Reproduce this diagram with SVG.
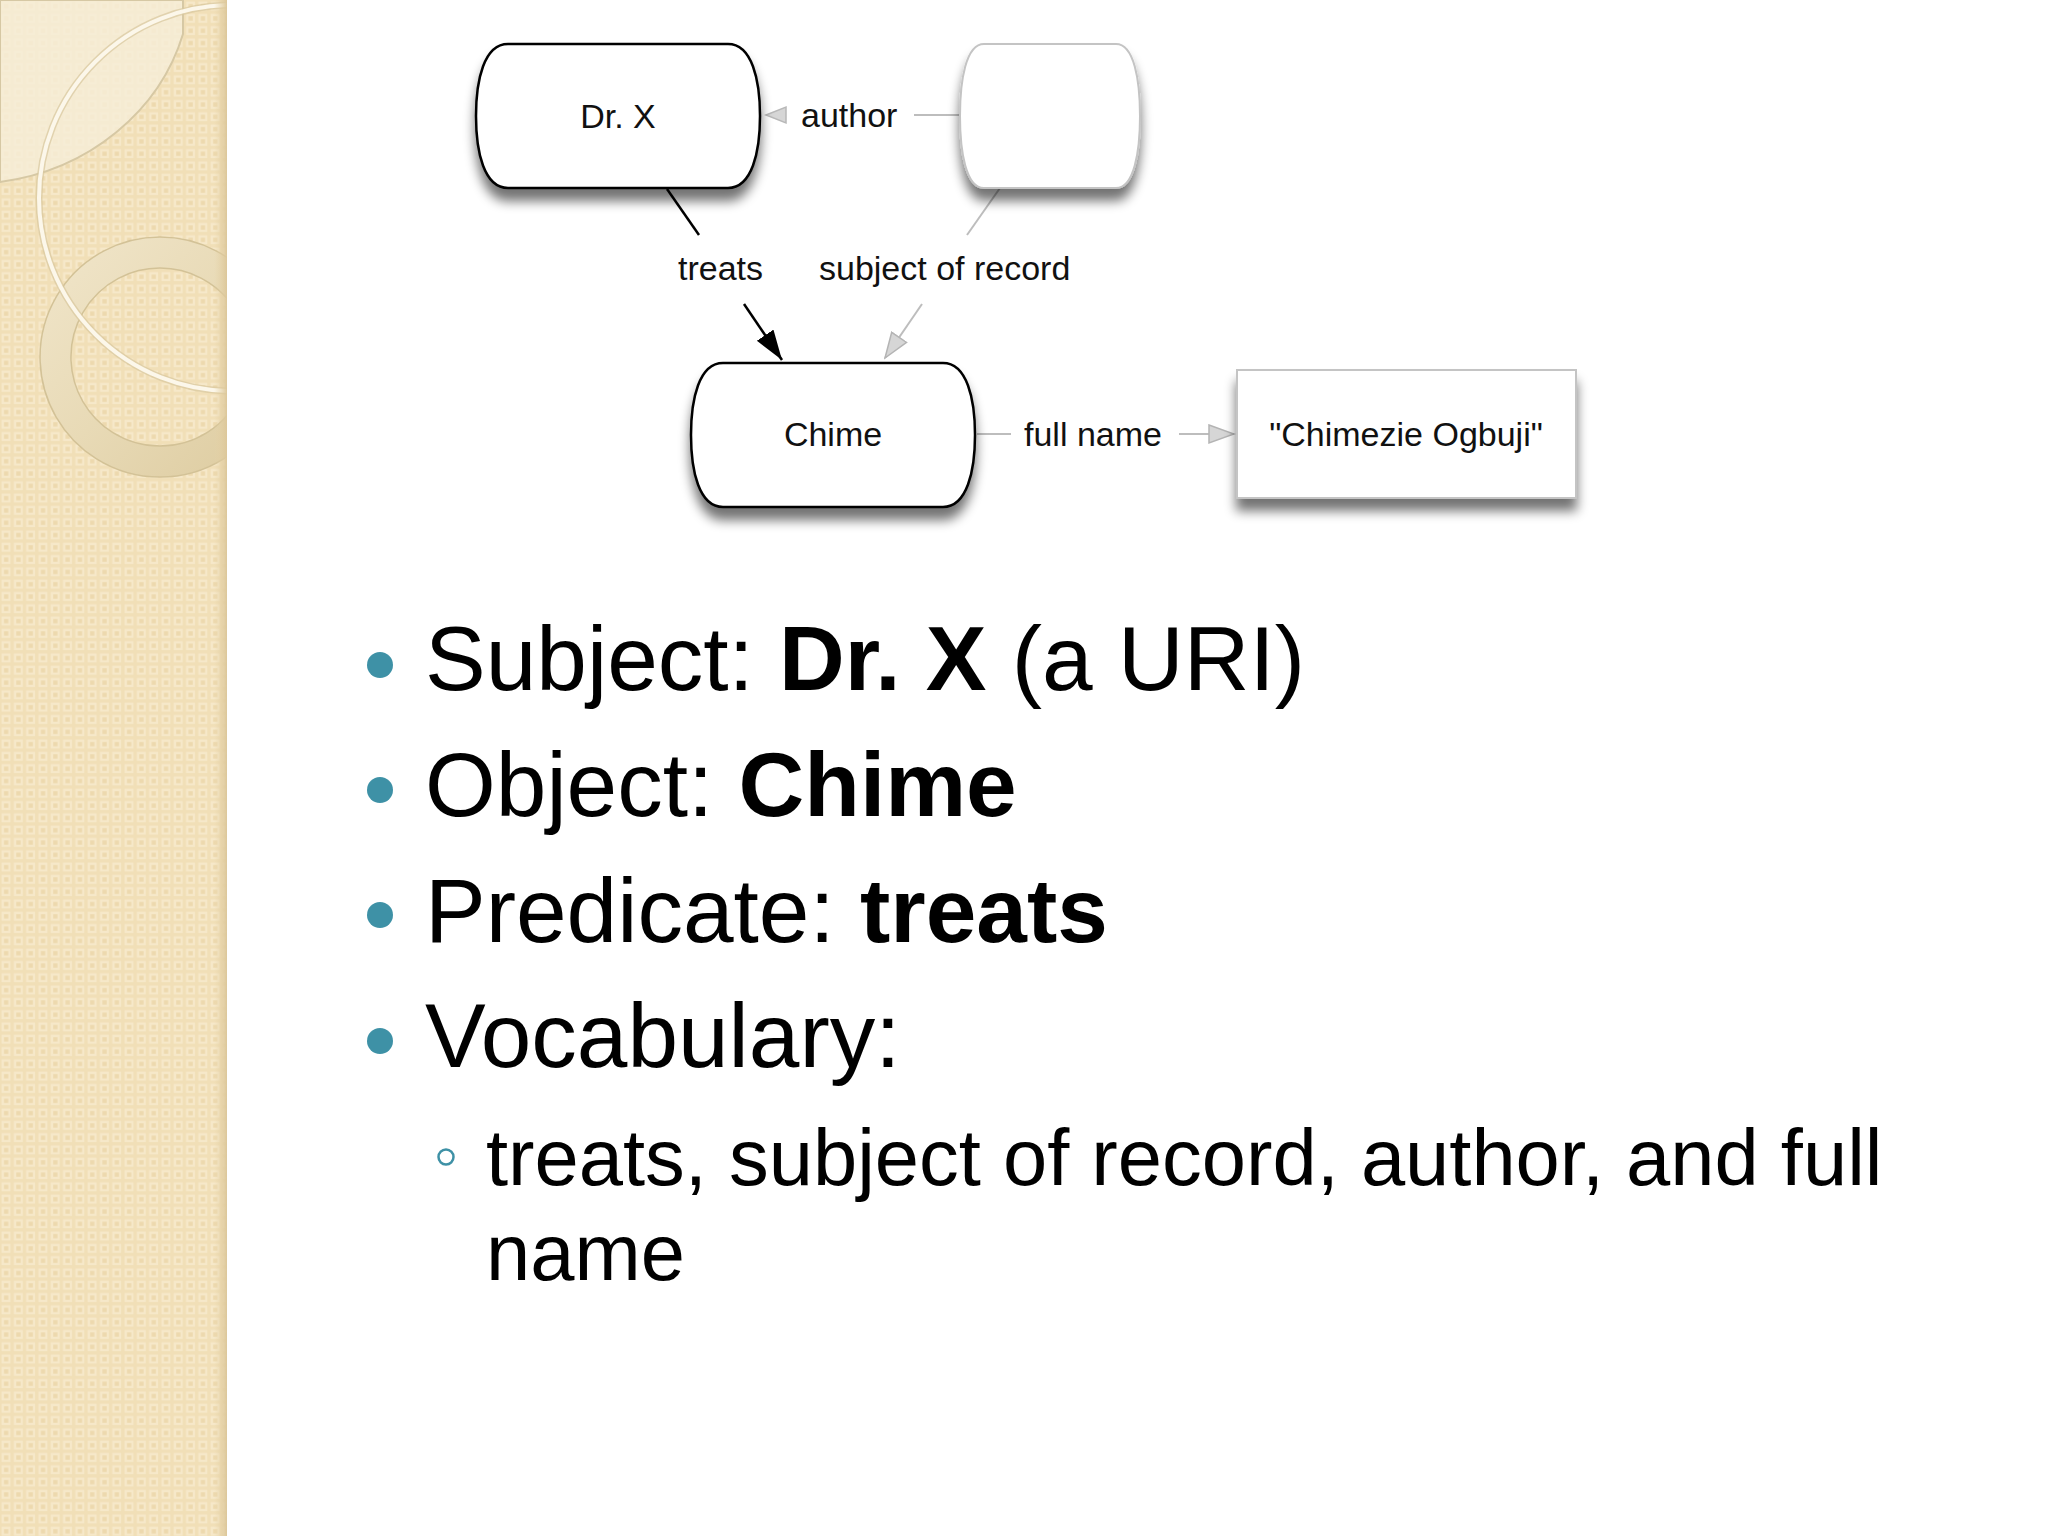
<svg xmlns="http://www.w3.org/2000/svg" width="2048" height="1536" viewBox="0 0 2048 1536">
<defs>
<style>
.lbl{font-family:"Liberation Sans",Arial,sans-serif;font-size:34px;fill:#111}
.big{font-family:"Liberation Sans",Arial,sans-serif;font-size:91px;fill:#000}
.sub{font-family:"Liberation Sans",Arial,sans-serif;font-size:79.5px;fill:#000}
.b{font-weight:bold}
.node{fill:#fff;stroke:#000;stroke-width:2.5}
.ghost{fill:#fff;stroke:#c4c4c4;stroke-width:2}
.dot{fill:#3E91A6}
</style>
<pattern id="chk" width="12.3" height="12.3" patternUnits="userSpaceOnUse">
<rect width="12.3" height="12.3" fill="#F1DFB7"/>
<rect x="1.5" y="1.5" width="9" height="9" fill="#F6E8C9"/>
<rect x="4" y="4" width="4.3" height="4.3" fill="#EDD9AE"/>
</pattern>
<linearGradient id="edge" x1="0" y1="0" x2="1" y2="0">
<stop offset="0" stop-color="#E6D3A8" stop-opacity="0"/>
<stop offset="1" stop-color="#DCC79A" stop-opacity="1"/>
</linearGradient>
<linearGradient id="ringg" x1="0" y1="0" x2="1" y2="1">
<stop offset="0" stop-color="#F1E6CB"/>
<stop offset="0.5" stop-color="#E8DAB6"/>
<stop offset="1" stop-color="#DCCA9E"/>
</linearGradient>
<clipPath id="side"><rect x="0" y="0" width="227" height="1536"/></clipPath>
<filter id="shadow" x="-20%" y="-20%" width="140%" height="160%">
<feGaussianBlur in="SourceAlpha" stdDeviation="6"/>
<feOffset dx="0" dy="12" result="o"/>
<feComponentTransfer><feFuncA type="linear" slope="0.55"/></feComponentTransfer>
<feMerge><feMergeNode/><feMergeNode in="SourceGraphic"/></feMerge>
</filter>
<marker id="arrBlack" markerUnits="userSpaceOnUse" markerWidth="32" markerHeight="22" refX="30" refY="10" orient="auto">
<path d="M0,0 L30,10 L0,20 Z" fill="#000"/>
</marker>
<marker id="arrGrey" markerUnits="userSpaceOnUse" markerWidth="28" markerHeight="22" refX="26" refY="10" orient="auto">
<path d="M1,1 L26,10 L1,19 Z" fill="#d6d6d6" stroke="#b4b4b4" stroke-width="1.5"/>
</marker>
</defs>

<rect width="2048" height="1536" fill="#fff"/>

<g id="sidebar" clip-path="url(#side)">
<rect x="0" y="0" width="227" height="1536" fill="url(#chk)"/>
<path d="M0,0 H183 V34 C160,110 90,170 0,182 Z" fill="#F6EDD8" fill-opacity="0.8" stroke="#D6C8A4" stroke-width="2"/>
<path d="M160,237 A120,120 0 1 0 160.1,237 Z M160,268 A89,89 0 1 1 159.9,268 Z" fill="url(#ringg)" fill-rule="evenodd" stroke="#D3C297" stroke-width="1.5"/>
<circle cx="232" cy="198" r="193" fill="none" stroke="#D8C79E" stroke-width="7" opacity="0.7"/>
<circle cx="232" cy="198" r="193" fill="none" stroke="#FCF7EA" stroke-width="4"/>
<rect x="214" y="0" width="13" height="1536" fill="url(#edge)"/>
</g>

<g id="connectors">
<g id="edge-author">
<line x1="914" y1="115" x2="960" y2="115" stroke="#bdbdbd" stroke-width="2"/>
<path d="M766,115 L786,107 L786,123 Z" fill="#d6d6d6" stroke="#b8b8b8" stroke-width="1.5"/>
<text class="lbl" x="801" y="127">author</text>
</g>
<g id="edge-treats">
<line x1="667" y1="189" x2="699" y2="235" stroke="#000" stroke-width="2.5"/>
<line x1="744" y1="304" x2="782" y2="360" stroke="#000" stroke-width="2.5" marker-end="url(#arrBlack)"/>
<text class="lbl" x="678" y="280">treats</text>
</g>
<g id="edge-subject">
<line x1="1000" y1="188" x2="967" y2="235" stroke="#bdbdbd" stroke-width="2"/>
<line x1="922" y1="304" x2="885" y2="358" stroke="#bdbdbd" stroke-width="2" marker-end="url(#arrGrey)"/>
<text class="lbl" x="819" y="280">subject of record</text>
</g>
<g id="edge-fullname">
<line x1="977" y1="434" x2="1011" y2="434" stroke="#bdbdbd" stroke-width="2"/>
<line x1="1179" y1="434" x2="1234" y2="434" stroke="#bdbdbd" stroke-width="2" marker-end="url(#arrGrey)"/>
<text class="lbl" x="1024" y="446">full name</text>
</g>
</g>

<g id="node-drx">
<path class="node" filter="url(#shadow)" d="M508,44 H728 C752,44 760,80 760,116 C760,152 752,188 728,188 H508 C484,188 476,152 476,116 C476,80 484,44 508,44 Z"/>
<text class="lbl" x="618" y="128" text-anchor="middle">Dr. X</text>
</g>

<g id="node-blank">
<path class="ghost" filter="url(#shadow)" d="M984,44 H1116 C1134,44 1140,80 1140,116 C1140,152 1134,188 1116,188 H984 C966,188 960,152 960,116 C960,80 966,44 984,44 Z"/>
</g>

<g id="node-chime">
<path class="node" filter="url(#shadow)" d="M723,363 H943 C967,363 975,399 975,435 C975,471 967,507 943,507 H723 C699,507 691,471 691,435 C691,399 699,363 723,363 Z"/>
<text class="lbl" x="833" y="446" text-anchor="middle">Chime</text>
</g>

<g id="node-literal">
<rect class="ghost" filter="url(#shadow)" x="1237" y="370" width="339" height="128"/>
<text class="lbl" x="1406" y="446" text-anchor="middle">"Chimezie Ogbuji"</text>
</g>

<g id="bullets">
<circle class="dot" cx="380" cy="665" r="13"/>
<text class="big" x="425" y="690">Subject: <tspan class="b">Dr. X</tspan> (a URI)</text>
<circle class="dot" cx="380" cy="790" r="13"/>
<text class="big" x="425" y="816">Object: <tspan class="b">Chime</tspan></text>
<circle class="dot" cx="380" cy="915" r="13"/>
<text class="big" x="425" y="942">Predicate: <tspan class="b">treats</tspan></text>
<circle class="dot" cx="380" cy="1041" r="13"/>
<text class="big" x="425" y="1067">Vocabulary:</text>
<circle cx="446" cy="1157" r="7.5" fill="none" stroke="#3E91A6" stroke-width="2.5"/>
<text class="sub" x="486" y="1185">treats, subject of record, author, and full</text>
<text class="sub" x="486" y="1280">name</text>
</g>
</svg>
